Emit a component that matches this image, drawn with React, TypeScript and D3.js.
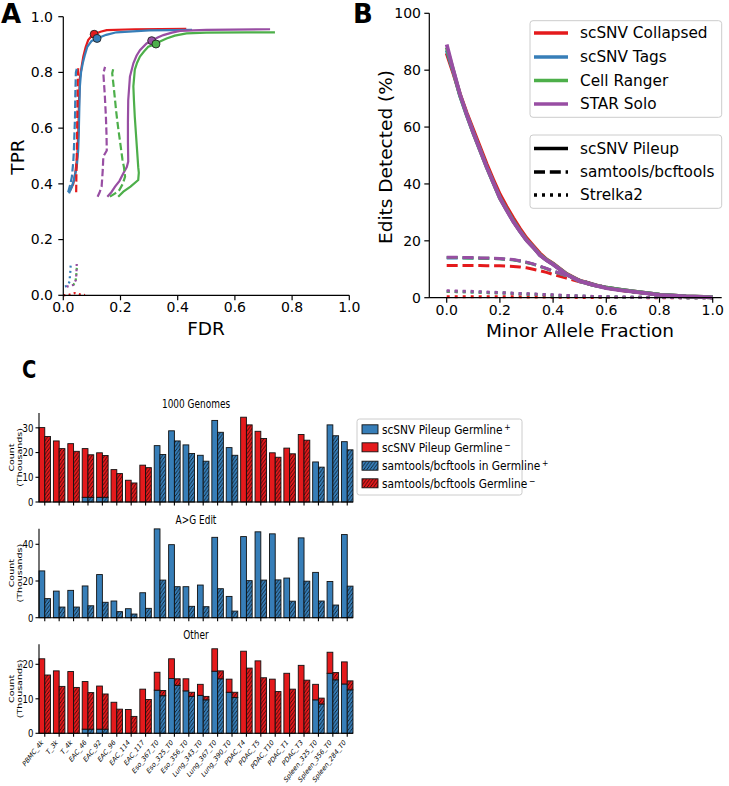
import React from 'react';
import * as d3 from 'd3';

const FONT = '"DejaVu Sans", sans-serif';
const RED = '#e41a1c';
const BLUE = '#377eb8';
const GREEN = '#4daf4a';
const PURPLE = '#984ea3';

type Pt = [number, number];

// ---------- Panel A: TPR vs FDR ----------
const rocCollapsedPileup: Pt[] = [[0.023,0.375],[0.035,0.40],[0.042,0.44],[0.049,0.50],[0.053,0.60],[0.055,0.70],[0.058,0.78],[0.064,0.82],[0.070,0.857],[0.078,0.89],[0.087,0.916],[0.098,0.93],[0.108,0.937],[0.13,0.946],[0.152,0.952],[0.25,0.955],[0.43,0.956]];
const rocTagsPileup: Pt[] = [[0.020,0.366],[0.030,0.39],[0.037,0.414],[0.047,0.46],[0.052,0.52],[0.054,0.58],[0.056,0.67],[0.058,0.75],[0.062,0.80],[0.068,0.833],[0.076,0.865],[0.084,0.892],[0.099,0.913],[0.118,0.922],[0.15,0.935],[0.186,0.944],[0.30,0.951],[0.45,0.953]];
const rocRangerPileup: Pt[] = [[0.192,0.354],[0.21,0.372],[0.235,0.39],[0.262,0.414],[0.264,0.44],[0.262,0.46],[0.258,0.52],[0.254,0.58],[0.25,0.64],[0.247,0.70],[0.245,0.75],[0.25,0.81],[0.258,0.835],[0.268,0.857],[0.282,0.875],[0.297,0.892],[0.324,0.902],[0.34,0.912],[0.361,0.922],[0.39,0.932],[0.431,0.94],[0.5,0.943],[0.64,0.944],[0.74,0.944]];
const rocSoloPileup: Pt[] = [[0.154,0.354],[0.168,0.37],[0.181,0.39],[0.196,0.41],[0.21,0.438],[0.222,0.46],[0.227,0.48],[0.226,0.55],[0.226,0.62],[0.227,0.70],[0.233,0.785],[0.245,0.833],[0.256,0.86],[0.268,0.88],[0.291,0.904],[0.309,0.914],[0.33,0.925],[0.35,0.934],[0.38,0.943],[0.408,0.949],[0.5,0.953],[0.723,0.955]];

const rocCollapsedSamtools: Pt[] = [[0.045,0.37],[0.046,0.45],[0.048,0.55],[0.049,0.65],[0.05,0.75],[0.052,0.815]];
const rocTagsSamtools: Pt[] = [[0.017,0.37],[0.025,0.40],[0.03,0.426],[0.035,0.48],[0.037,0.52],[0.039,0.58],[0.041,0.64],[0.042,0.72],[0.044,0.80],[0.049,0.82]];
const rocRangerSamtools: Pt[] = [[0.163,0.354],[0.18,0.365],[0.196,0.378],[0.208,0.40],[0.216,0.426],[0.212,0.46],[0.207,0.486],[0.20,0.54],[0.192,0.60],[0.186,0.65],[0.181,0.70],[0.176,0.75],[0.171,0.797],[0.175,0.815]];
const rocSoloSamtools: Pt[] = [[0.12,0.354],[0.127,0.37],[0.134,0.39],[0.138,0.45],[0.14,0.498],[0.152,0.52],[0.151,0.58],[0.149,0.64],[0.145,0.72],[0.14,0.797],[0.146,0.82]];

const rocCollapsedStrelka: Pt[] = [[0.0,0.0],[0.02,0.002],[0.04,0.008],[0.06,0.003],[0.076,0.001]];
const rocTagsStrelka: Pt[] = [[0.006,0.031],[0.017,0.037],[0.022,0.05],[0.023,0.067],[0.025,0.09],[0.026,0.115]];
const rocRangerStrelka: Pt[] = [[0.035,0.037],[0.043,0.05],[0.046,0.08],[0.048,0.112]];
const rocSoloStrelka: Pt[] = [[0.012,0.031],[0.025,0.035],[0.035,0.037],[0.044,0.055],[0.046,0.08],[0.047,0.115]];

// default-threshold points
const rocMarkers: { pt: Pt; color: string }[] = [
  { pt: [0.108, 0.937], color: RED },
  { pt: [0.118, 0.922], color: BLUE },
  { pt: [0.309, 0.914], color: PURPLE },
  { pt: [0.324, 0.902], color: GREEN },
];

// ---------- Panel B: edits detected vs MAF ----------
const maf = [0,0.025,0.05,0.075,0.1,0.125,0.15,0.175,0.2,0.225,0.25,0.275,0.3,0.325,0.35,0.375,0.4,0.45,0.5,0.55,0.6,0.65,0.7,0.8,0.9,1.0];
const editsCollapsedPileup = [86,79,71.5,65,59,53,47,41.5,36.3,32,28,24.3,21,18.3,15.6,13.5,12,8.4,6,4.6,3.5,2.8,2.2,1.1,0.5,0.15];
const editsTagsPileup = [87,79.5,71,64.3,58,52,46,40.5,35.2,31,27,23.5,20.3,17.8,15.1,13.3,11.8,8.3,5.9,4.5,3.5,2.8,2.2,1.1,0.5,0.15];
const editsRangerPileup = [88,79.8,71.2,64.4,58,52,46,40.5,35,31,27,23.5,20.3,17.8,15.1,13.3,11.8,8.3,5.8,4.5,3.5,2.8,2.2,1.1,0.5,0.15];
const editsSoloPileup = [89,80,71.5,64.5,58,52,46,40.5,35,30.8,26.8,23.4,20.2,17.7,15,13.2,11.7,8.2,5.8,4.5,3.4,2.7,2.1,1.0,0.45,0.12];
const editsCollapsedSamtools = [11.3,11.3,11.3,11.3,11.3,11.3,11.2,11.2,11.2,11.1,11.0,10.8,10.5,10.0,9.5,8.9,8.2,6.9,5.6,4.4,3.4,2.6,2.0,1.0,0.4,0.1];
const editsTagsSamtools = [14.0,14.0,14.0,14.0,13.9,13.9,13.8,13.8,13.7,13.5,13.3,12.9,12.4,11.8,11.0,10.2,9.3,7.7,6.1,4.7,3.6,2.8,2.1,1.0,0.4,0.1];
const editsRangerSamtools = [14.1,14.1,14.1,14.0,14.0,13.9,13.9,13.8,13.7,13.5,13.3,12.9,12.4,11.8,11.0,10.2,9.3,7.7,6.1,4.7,3.6,2.8,2.1,1.0,0.4,0.1];
const editsSoloSamtools = [14.2,14.2,14.2,14.1,14.1,14.0,14.0,13.9,13.8,13.6,13.4,13.0,12.5,11.9,11.1,10.3,9.4,7.8,6.2,4.8,3.6,2.8,2.1,1.0,0.4,0.1];
const editsCollapsedStrelka = [0.3,0.3,0.3,0.3,0.3,0.3,0.3,0.3,0.3,0.3,0.3,0.3,0.25,0.25,0.25,0.2,0.2,0.15,0.1,0.1,0.05,0.05,0.05,0,0,0];
const editsTagsStrelka = [2.2,2.2,2.1,2.1,2.0,1.9,1.8,1.75,1.7,1.6,1.5,1.4,1.3,1.2,1.1,1.0,0.9,0.7,0.55,0.4,0.3,0.2,0.15,0.05,0.02,0];
const editsRangerStrelka = [2.2,2.2,2.1,2.1,2.0,1.9,1.8,1.75,1.7,1.6,1.5,1.4,1.3,1.2,1.1,1.0,0.9,0.7,0.55,0.4,0.3,0.2,0.15,0.05,0.02,0];
const editsSoloStrelka = [2.4,2.4,2.3,2.3,2.2,2.1,2.0,1.9,1.8,1.7,1.6,1.5,1.4,1.3,1.2,1.1,1.0,0.8,0.6,0.45,0.35,0.25,0.15,0.05,0.02,0];

const aligners = ['scSNV Collapsed', 'scSNV Tags', 'Cell Ranger', 'STAR Solo'];
const alignerColors = [RED, BLUE, GREEN, PURPLE];
const callers = ['scSNV Pileup', 'samtools/bcftools', 'Strelka2'];

// ---------- Panel C: variant counts per sample (thousands) ----------
const samples = ['PBMC_4k','T_3k','T_4k','EAC_46','EAC_92','EAC_96','EAC_114','EAC_117','Eso_367_T0','Eso_325_T0','Eso_356_T0','Lung_343_T0','Lung_367_T0','Lung_390_T0','PDAC_T4','PDAC_T5','PDAC_T10','PDAC_T1','PDAC_T3','Spleen_325_T0','Spleen_356_T0','Spleen_284_T0'];

const kgPileupTotal = [30.1,24.7,23.6,21.6,19.9,13.1,8.8,14.9,22.8,28.8,23.1,18.9,33.0,22.0,34.3,28.6,19.9,21.8,27.3,16.2,31.2,24.4];
const kgPileupGermPos = [0,0,0,1.9,1.9,0,0,0,22.8,28.8,23.1,18.9,33.0,22.0,0,0,0,0,0,16.2,31.2,24.4];
const kgSamTotal = [26.5,21.6,20.5,19.1,18.8,11.5,7.7,13.9,19.2,24.7,19.6,16.5,28.2,18.9,31.2,25.7,18.1,19.5,25.0,14.1,26.8,21.1];
const kgSamGermPos = [0,0,0,1.9,1.9,0,0,0,19.2,24.7,19.6,16.5,28.2,18.9,0,0,0,0,0,14.1,26.8,21.1];

const agPileupTotal = [25.5,14.5,14.9,17.3,23.5,9.1,4.9,13.6,48.4,39.8,16.9,17.8,43.8,11.6,44.2,46.8,45.7,21.6,43.5,24.7,19.7,45.3];
const agSamTotal = [10.4,5.8,5.8,6.5,8.4,3.3,2.0,5.1,20.5,16.9,6.2,6.0,15.8,3.6,20.2,20.5,20.6,9.0,19.9,9.1,6.9,17.2];

const otPileupTotal = [21.6,18.1,17.9,15.0,13.7,9.0,6.9,12.8,17.7,21.6,15.8,14.2,24.5,15.7,23.8,21.0,15.7,17.4,19.7,14.2,23.5,20.7];
const otPileupGermPos = [0,0,0,1.2,1.2,0,0,0,12.5,15.9,12.3,11.0,18.0,11.9,0,0,0,0,0,9.7,17.4,14.3];
const otSamTotal = [16.9,13.6,13.3,11.8,11.4,7.0,4.9,9.8,12.4,15.8,11.9,10.7,18.1,11.9,18.9,16.1,12.1,12.8,15.4,10.2,17.6,15.2];
const otSamGermPos = [0,0,0,1.2,1.2,0,0,0,10.9,13.9,10.7,9.7,15.8,10.4,0,0,0,0,0,8.5,15.5,12.6];

const legendC = ['scSNV Pileup Germline', 'scSNV Pileup Germline', 'samtools/bcftools in Germline', 'samtools/bcftools Germline'];
const legendCSup = ['+', '\u2212', '+', '\u2212'];

// panel C was squeezed horizontally in the figure
const SX = 0.78;
const sq = (x: number, y: number, extra = '') => `translate(${x},${y}) scale(${SX},1)${extra}`;

function PanelA() {
  const x = d3.scaleLinear().domain([0, 1]).range([63.3, 349.3]);
  const y = d3.scaleLinear().domain([0, 1]).range([295.3, 16.7]);
  const line = d3.line<Pt>().x(d => x(d[0])).y(d => y(d[1]));
  const sets = [
    [rocCollapsedPileup, rocTagsPileup, rocRangerPileup, rocSoloPileup],
    [rocCollapsedSamtools, rocTagsSamtools, rocRangerSamtools, rocSoloSamtools],
    [rocCollapsedStrelka, rocTagsStrelka, rocRangerStrelka, rocSoloStrelka],
  ];
  const dashes = [undefined, '7.4 3.2', '2 3.3'];
  const ticks = [0, 0.2, 0.4, 0.6, 0.8, 1.0];
  return (
    <g>
      {sets.map((set, ci) => set.map((pts, ai) => (
        <path key={`${ci}-${ai}`} d={line(pts) ?? ''} fill="none" stroke={alignerColors[ai]}
          strokeWidth={2.2} strokeDasharray={dashes[ci]} />
      )))}
      {rocMarkers.map((m, i) => (
        <circle key={i} cx={x(m.pt[0])} cy={y(m.pt[1])} r={4} fill={m.color} stroke="#222" strokeWidth={0.9} />
      ))}
      <line x1={63.3} x2={63.3} y1={16.7} y2={295.3} stroke="#000" strokeWidth={1.2} />
      <line x1={63.3} x2={349.3} y1={295.3} y2={295.3} stroke="#000" strokeWidth={1.2} />
      {ticks.map(t => (
        <g key={'y' + t}>
          <line x1={58.3} x2={63.3} y1={y(t)} y2={y(t)} stroke="#000" strokeWidth={1.2} />
          <text x={53} y={y(t)} dy="0.35em" textAnchor="end" fontSize={14}>{t.toFixed(1)}</text>
        </g>
      ))}
      {ticks.map(t => (
        <g key={'x' + t}>
          <line x1={x(t)} x2={x(t)} y1={295.3} y2={300.3} stroke="#000" strokeWidth={1.2} />
          <text x={x(t)} y={311.5} textAnchor="middle" fontSize={14}>{t.toFixed(1)}</text>
        </g>
      ))}
      <text x={206} y={335} textAnchor="middle" fontSize={18.5}>FDR</text>
      <text transform="translate(24,157) rotate(-90)" textAnchor="middle" fontSize={18.5}>TPR</text>
      <text x={1} y={23} fontSize={26} fontWeight="bold">A</text>
    </g>
  );
}

function PanelB() {
  const x = d3.scaleLinear().domain([0, 1]).range([446.7, 712.7]);
  const y = d3.scaleLinear().domain([0, 100]).range([297.7, 13.3]);
  const line = d3.line<number>().x((_, i) => x(maf[i])).y(d => y(d));
  const sets = [
    [editsCollapsedSamtools, editsTagsSamtools, editsRangerSamtools, editsSoloSamtools],
    [editsCollapsedStrelka, editsTagsStrelka, editsRangerStrelka, editsSoloStrelka],
    [editsCollapsedPileup, editsTagsPileup, editsRangerPileup, editsSoloPileup],
  ];
  const styles = [
    { w: 3, dash: '11 4.8' },
    { w: 3, dash: '3 5' },
    { w: 3.8, dash: undefined },
  ];
  const xt = [0, 0.2, 0.4, 0.6, 0.8, 1.0];
  const yt = [0, 20, 40, 60, 80, 100];
  const legStyles = [undefined, '11 4.8', '3 5'];
  return (
    <g>
      {sets.map((set, si) => set.map((vals, ai) => (
        <path key={`${si}-${ai}`} d={line(vals) ?? ''} fill="none" stroke={alignerColors[ai]}
          strokeWidth={styles[si].w} strokeDasharray={styles[si].dash} />
      )))}
      <line x1={429.3} x2={429.3} y1={13.3} y2={297.7} stroke="#000" strokeWidth={1.2} />
      <line x1={429.3} x2={721.7} y1={297.7} y2={297.7} stroke="#000" strokeWidth={1.2} />
      {yt.map(t => (
        <g key={'y' + t}>
          <line x1={424.3} x2={429.3} y1={y(t)} y2={y(t)} stroke="#000" strokeWidth={1.2} />
          <text x={421} y={y(t)} dy="0.35em" textAnchor="end" fontSize={14}>{t}</text>
        </g>
      ))}
      {xt.map(t => (
        <g key={'x' + t}>
          <line x1={x(t)} x2={x(t)} y1={297.7} y2={302.7} stroke="#000" strokeWidth={1.2} />
          <text x={x(t)} y={314.5} textAnchor="middle" fontSize={14}>{t.toFixed(1)}</text>
        </g>
      ))}
      <text x={580} y={336.5} textAnchor="middle" fontSize={18.5}>Minor Allele Fraction</text>
      <text transform="translate(392,157) rotate(-90)" textAnchor="middle" fontSize={18.5}>Edits Detected (%)</text>
      <text x={353} y={23} fontSize={26} fontWeight="bold">B</text>

      <rect x={530} y={20.7} width={191.7} height={96.6} rx={3} fill="#fff" fillOpacity={0.8} stroke="#ccc" />
      {aligners.map((a, i) => {
        const ly = [33, 57, 80.5, 104][i];
        return (
          <g key={a}>
            <line x1={534} x2={568} y1={ly} y2={ly} stroke={alignerColors[i]} strokeWidth={3.5} />
            <text x={580} y={ly} dy="0.35em" fontSize={15.3}>{a}</text>
          </g>
        );
      })}
      <rect x={530} y={135} width={191.7} height={73.3} rx={3} fill="#fff" fillOpacity={0.8} stroke="#ccc" />
      {callers.map((c, i) => {
        const ly = [148.5, 172, 195][i];
        return (
          <g key={c}>
            <line x1={534} x2={568} y1={ly} y2={ly} stroke="#000" strokeWidth={3.5} strokeDasharray={legStyles[i]} />
            <text x={580} y={ly} dy="0.35em" fontSize={15.3}>{c}</text>
          </g>
        );
      })}
    </g>
  );
}

type Sub = {
  title: string;
  y0: number;
  top: number;
  yMax: number;
  ticks: number[];
  pileTotal: number[];
  pilePos: number[];
  samTotal: number[];
  samPos: number[];
};

const subplots: Sub[] = [
  { title: '1000 Genomes', y0: 502, top: 413, yMax: 36, ticks: [0, 10, 20, 30],
    pileTotal: kgPileupTotal, pilePos: kgPileupGermPos, samTotal: kgSamTotal, samPos: kgSamGermPos },
  { title: 'A>G Edit', y0: 617.7, top: 528.7, yMax: 48.5, ticks: [0, 20, 40],
    pileTotal: agPileupTotal, pilePos: agPileupTotal, samTotal: agSamTotal, samPos: agSamTotal },
  { title: 'Other', y0: 733.3, top: 644.3, yMax: 25.8, ticks: [0, 10, 20],
    pileTotal: otPileupTotal, pilePos: otPileupGermPos, samTotal: otSamTotal, samPos: otSamGermPos },
];

function PanelC() {
  const L = 39, R = 353;
  const x = d3.scaleLinear().domain([-0.4, samples.length - 0.6]).range([L, R]);
  const bw = x(0.4) - x(0);
  const EDGE = '#111';
  const hw = 3.2, hh = 4.5;
  const hatch = `M${-hw * 0.25},${hh * 0.25} l${hw * 0.5},${-hh * 0.5} M0,${hh} l${hw},${-hh} M${hw * 0.75},${hh * 1.25} l${hw * 0.5},${-hh * 0.5}`;
  return (
    <g>
      <defs>
        {[['hb', BLUE], ['hr', RED]].map(([id, c]) => (
          <pattern key={id} id={id} patternUnits="userSpaceOnUse" width={hw} height={hh}>
            <rect width={hw} height={hh} fill={c} />
            <path d={hatch} stroke="#000" strokeWidth={0.7} />
          </pattern>
        ))}
      </defs>
      <text transform={sq(22, 378)} fontSize={25} fontWeight="bold">C</text>
      {subplots.map((s) => {
        const y = d3.scaleLinear().domain([0, s.yMax]).range([s.y0, s.top]);
        const mid = (s.y0 + s.top) / 2;
        return (
          <g key={s.title}>
            <text transform={sq((L + R) / 2, s.top - 5)} textAnchor="middle" fontSize={11.5}>{s.title}</text>
            {samples.map((_, i) => {
              const parts = [
                { x0: x(i - 0.4), pos: s.pilePos[i], tot: s.pileTotal[i], hatch: false },
                { x0: x(i), pos: s.samPos[i], tot: s.samTotal[i], hatch: true },
              ];
              return parts.map((p, k) => (
                <g key={`${i}-${k}`}>
                  {p.pos > 0 && (
                    <rect x={p.x0} y={y(p.pos)} width={bw} height={y(0) - y(p.pos)}
                      fill={p.hatch ? 'url(#hb)' : BLUE} stroke={EDGE} strokeWidth={0.9} />
                  )}
                  {p.tot - p.pos > 0.001 && (
                    <rect x={p.x0} y={y(p.tot)} width={bw} height={y(p.pos) - y(p.tot)}
                      fill={p.hatch ? 'url(#hr)' : RED} stroke={EDGE} strokeWidth={0.9} />
                  )}
                </g>
              ));
            })}
            <line x1={L} x2={L} y1={s.top} y2={s.y0} stroke="#000" strokeWidth={1.1} />
            <line x1={L} x2={R} y1={s.y0} y2={s.y0} stroke="#000" strokeWidth={1.1} />
            {s.ticks.map(t => (
              <g key={t}>
                <line x1={L - 3.5} x2={L} y1={y(t)} y2={y(t)} stroke="#000" strokeWidth={1.1} />
                <text transform={sq(L - 5.5, y(t))} dy="0.35em" textAnchor="end" fontSize={11}>{t}</text>
              </g>
            ))}
            {samples.map((_, i) => (
              <line key={i} x1={x(i)} x2={x(i)} y1={s.y0} y2={s.y0 + 3.5} stroke="#000" strokeWidth={1.1} />
            ))}
            <text transform={sq(11, mid, ' rotate(-90)')} dy="0.35em" textAnchor="middle" fontSize={9.5}>Count</text>
            <text transform={sq(19, mid, ' rotate(-90)')} dy="0.35em" textAnchor="middle" fontSize={9.5}>(Thousands)</text>
          </g>
        );
      })}
      {samples.map((name, i) => (
        <text key={name} transform={sq(x(i) - 1, 733.3 + 9.5, ' rotate(-45)')}
          textAnchor="end" fontSize={7.5}>{name}</text>
      ))}
      <rect x={357} y={419} width={165} height={76} rx={2.5} fill="#fff" fillOpacity={0.8} stroke="#ccc" />
      {legendC.map((lab, i) => {
        const ly = [429.3, 447.3, 465.7, 483.3][i];
        const fill = [BLUE, RED, 'url(#hb)', 'url(#hr)'][i];
        return (
          <g key={i}>
            <rect x={362} y={ly - 4.5} width={16} height={9} fill={fill} stroke={EDGE} strokeWidth={0.9} />
            <text transform={`translate(382,${ly}) scale(0.85,1)`} dy="0.35em" fontSize={12.5}>
              {lab}
              <tspan dx={2} dy="-0.45em" fontSize={9}>{legendCSup[i]}</tspan>
            </text>
          </g>
        );
      })}
    </g>
  );
}

export default function App() {
  return (
    <svg width={729} height={786} viewBox="0 0 729 786"
      style={{ position: 'absolute', left: 0, top: 0, background: '#fff' }}
      fontFamily={FONT}>
      <rect width={729} height={786} fill="#fff" />
      <PanelA />
      <PanelB />
      <PanelC />
    </svg>
  );
}
